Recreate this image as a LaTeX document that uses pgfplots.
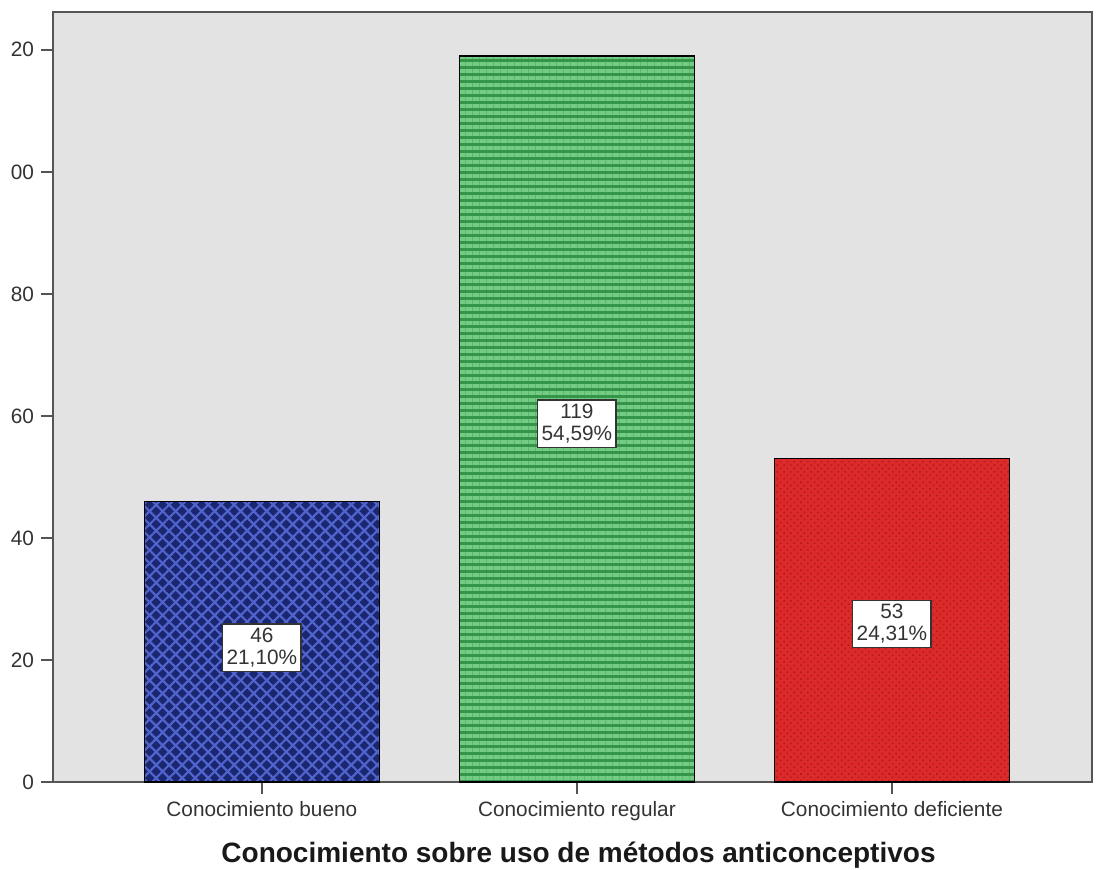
\documentclass[border=0pt]{standalone}
\usepackage{fontspec}
\setmainfont{Liberation Sans}
\usepackage{pgfplots}
\pgfplotsset{compat=1.18}
\usetikzlibrary{patterns.meta}
\definecolor{bgray}{HTML}{E3E3E3}
\definecolor{axgray}{HTML}{555555}
\definecolor{navy}{HTML}{1A2670}
\definecolor{lblue}{HTML}{5064CC}
\definecolor{dgreen}{HTML}{349448}
\definecolor{lgreen}{HTML}{74CC84}
\definecolor{bred}{HTML}{DC2A2A}
\definecolor{dred}{HTML}{B01C1C}
\begin{document}
\begin{tikzpicture}
\path[use as bounding box] (-26.5pt,-43.5pt) rectangle (526.5pt,391pt);
\begin{axis}[
  at={(0,0)}, anchor=south west,
  scale only axis, width=519.5pt, height=385pt,
  xmin=-0.663, xmax=2.635, ymin=0, ymax=126.2,
  axis background/.style={fill=bgray},
  axis line style={draw=axgray, line width=1pt},
  tick style={draw=axgray, line width=1pt},
  tick align=outside, major tick length=6pt,
  xtick={0,1,2},
  xticklabels={Conocimiento bueno, Conocimiento regular, Conocimiento deficiente},
  ytick={0,20,40,60,80,100,120},
  yticklabels={0,20,40,60,80,00,20},
  xtick pos=bottom, ytick pos=left,
  ticklabel style={font=\fontsize{10.4}{12}\selectfont, text=black!80},
  /pgf/number format/assume math mode=true,
  xlabel={Conocimiento sobre uso de métodos anticonceptivos},
  xlabel style={font=\fontsize{14}{16}\selectfont\bfseries, text=black!90, at={(axis description cs:0.5,0)}, anchor=center, yshift=-36.5pt, xshift=3pt},
  ybar, bar width=0.746, bar shift=0pt,
  clip=false,
]
\addplot[draw=black, line width=0.8pt, fill=navy,
  postaction={pattern={Lines[angle=45,distance=4.6pt,line width=1.1pt]}, pattern color=lblue},
  postaction={pattern={Lines[angle=-45,distance=4.6pt,line width=1.1pt]}, pattern color=lblue}]
  coordinates {(0,46)};
\addplot[draw=black, line width=0.8pt, fill=dgreen,
  postaction={pattern={Lines[angle=0,distance=3.5pt,line width=1.6pt]}, pattern color=lgreen}]
  coordinates {(1,119)};
\addplot[draw=black, line width=0.8pt, fill=bred,
  postaction={pattern={Dots[angle=45,distance=2.4pt,radius=0.55pt]}, pattern color=dred}]
  coordinates {(2,53)};
\tikzset{lbl/.style={draw=black!80, line width=0.8pt, fill=white, align=center, inner sep=2pt, font=\fontsize{10.4}{11}\selectfont, text=black!80}}
\node[lbl] at (axis cs:0,22) {46\\21,10\%};
\node[lbl] at (axis cs:1,58.7) {119\\54,59\%};
\node[lbl] at (axis cs:2,25.9) {53\\24,31\%};
\end{axis}
\end{tikzpicture}
\end{document}
